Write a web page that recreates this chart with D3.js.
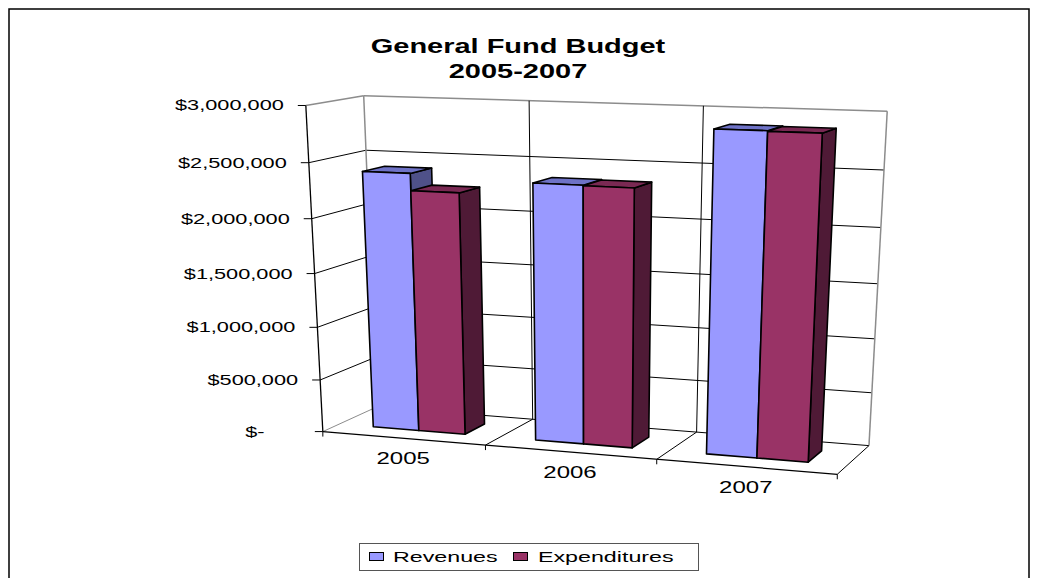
<!DOCTYPE html>
<html>
<head>
<meta charset="utf-8">
<script src="https://cdn.jsdelivr.net/npm/d3@7"></script>
<style>
  body { margin: 0; background: #fff; }
  text { font-family: "Liberation Sans", Arial, sans-serif; fill: #000; }
</style>
</head>
<body>
<svg id="chart"></svg>
<script>
// ---- data ----
const years = ["2005", "2006", "2007"];
const seriesNames = ["Revenues", "Expenditures"];
const revenues = [2400000, 2360000, 2880000];
const expenditures = [2245000, 2355000, 2875000];
const yTicks = [0, 500000, 1000000, 1500000, 2000000, 2500000, 3000000];
const yTickLabels = ["$-      ", "$500,000", "$1,000,000", "$1,500,000", "$2,000,000", "$2,500,000", "$3,000,000"];

const width = 1038, height = 578;
const colors = {
  Revenues:     { front: "#9999ff", top: "#6e72c6", side: "#4f5189" },
  Expenditures: { front: "#993366", top: "#7a2953", side: "#4f1a36" }
};

// box corners on screen, used to fit the perspective camera (world: x 0..3, y 0..1, z 0 front..1 back)
const calib = [
  [[0, 1, 0], [306, 105]],
  [[0, 0, 0], [323.3, 430.5]],
  [[0, 1, 1], [363.3, 96]],
  [[3, 1, 1], [887.3, 111.7]],
  [[3, 0, 1], [869.3, 445]],
  [[3, 0, 0], [837.5, 472.5]],
  [[1, 0, 0], [485, 446.5]],
  [[2, 0, 0], [656, 461.5]],
  [[0, 0.5, 0], [314.9, 273.3]]
];

// least squares fit of a 3x4 projection matrix
function fitCamera(pts) {
  const rows = [], rhs = [];
  pts.forEach(([[X, Y, Z], [u0, v0]]) => {
    const u = (u0 - 500) / 100, v = (v0 - 300) / 100;
    rows.push([X, Y, Z, 1, 0, 0, 0, 0, -u * X, -u * Y, -u * Z]); rhs.push(u);
    rows.push([0, 0, 0, 0, X, Y, Z, 1, -v * X, -v * Y, -v * Z]); rhs.push(v);
  });
  const n = 11;
  const M = d3.range(n).map(() => new Array(n + 1).fill(0));
  rows.forEach((r, k) => {
    for (let i = 0; i < n; i++) {
      for (let j = 0; j < n; j++) M[i][j] += r[i] * r[j];
      M[i][n] += r[i] * rhs[k];
    }
  });
  for (let c = 0; c < n; c++) {
    let piv = c;
    for (let r = c + 1; r < n; r++) if (Math.abs(M[r][c]) > Math.abs(M[piv][c])) piv = r;
    [M[c], M[piv]] = [M[piv], M[c]];
    for (let r = 0; r < n; r++) {
      if (r === c) continue;
      const f = M[r][c] / M[c][c];
      for (let j = c; j <= n; j++) M[r][j] -= f * M[c][j];
    }
  }
  return M.map((r, i) => r[n] / r[i]);
}
const cam = fitCamera(calib);
function project([X, Y, Z]) {
  const w = cam[8] * X + cam[9] * Y + cam[10] * Z + 1;
  return [
    (cam[0] * X + cam[1] * Y + cam[2] * Z + cam[3]) / w * 100 + 500,
    (cam[4] * X + cam[5] * Y + cam[6] * Z + cam[7]) / w * 100 + 300
  ];
}

// ---- scales ----
const x = d3.scaleBand().domain(years).range([0, 3]);
const xs = d3.scaleBand().domain(seriesNames).range([0, x.bandwidth()]).paddingOuter(0.75);
const y = d3.scaleLinear().domain([0, 3000000]).range([0, 1]);
const zFront = 0.3, zBack = 0.7;   // gap depth 150%

const svg = d3.select("#chart").attr("width", width).attr("height", height);
svg.append("rect").attr("width", width).attr("height", height).attr("fill", "#fff");
svg.append("rect").attr("x", 9).attr("y", 9).attr("width", 1020).attr("height", 620)
  .attr("fill", "none").attr("stroke", "#000").attr("stroke-width", 1.5);

const poly = pts => "M" + pts.map(p => project(p).join(",")).join("L") + "Z";
const line = (a, b) => "M" + project(a).join(",") + "L" + project(b).join(",");
const plot = svg.append("g");

// walls and floor
[[[0,0,1],[3,0,1],[3,1,1],[0,1,1]], [[0,0,0],[0,0,1],[0,1,1],[0,1,0]], [[0,0,0],[3,0,0],[3,0,1],[0,0,1]]]
  .forEach(f => plot.append("path").attr("d", poly(f)).attr("fill", "#fff"));

const grey = "#8c8c8c";
// horizontal gridlines on back wall and left wall
yTicks.forEach((t, i) => {
  const top = i === yTicks.length - 1;
  plot.append("path").attr("d", line([0, y(t), 1], [3, y(t), 1]))
    .attr("stroke", top ? grey : "#000").attr("stroke-width", top ? 1.5 : 1).attr("fill", "none");
  plot.append("path").attr("d", line([0, y(t), 0], [0, y(t), 1]))
    .attr("stroke", top || i === 0 ? grey : "#000").attr("stroke-width", top ? 1.5 : 1).attr("fill", "none");
});
// category lines on back wall and floor
d3.range(0, 4).forEach(k => {
  const edge = k === 0 || k === 3;
  plot.append("path").attr("d", line([k, 0, 1], [k, 1, 1]))
    .attr("stroke", edge ? grey : "#000").attr("stroke-width", edge ? 1.5 : 1).attr("fill", "none");
  if (k > 0) plot.append("path").attr("d", line([k, 0, 0], [k, 0, 1]))
    .attr("stroke", "#000").attr("stroke-width", 1).attr("fill", "none");
});
// axes
plot.append("path").attr("d", line([0, 0, 0], [0, 1, 0])).attr("stroke", "#000").attr("stroke-width", 1.3);
plot.append("path").attr("d", line([0, 0, 0], [3, 0, 0])).attr("stroke", "#000").attr("stroke-width", 1.3);

yTicks.forEach((t, i) => {
  const [px, py] = project([0, y(t), 0]);
  plot.append("line").attr("x1", px - 8).attr("x2", px).attr("y1", py).attr("y2", py)
    .attr("stroke", "#000").attr("stroke-width", 1);
  plot.append("text").attr("transform", `translate(${px - 22},${py + 5}) scale(1.45,1)`)
    .attr("text-anchor", "end").style("white-space", "pre").style("font-size", "15px")
    .text(yTickLabels[i]);
});
d3.range(0, 4).forEach(k => {
  const [px, py] = project([k, 0, 0]);
  plot.append("line").attr("x1", px).attr("x2", px).attr("y1", py).attr("y2", py + 5)
    .attr("stroke", "#000").attr("stroke-width", 1);
});
years.forEach(yr => {
  const [px, py] = project([x(yr) + x.bandwidth() / 2, 0, 0]);
  plot.append("text").attr("transform", `translate(${px},${py + 26}) scale(1.5,1)`)
    .attr("text-anchor", "middle").style("font-size", "16px").text(yr);
});

// bars, drawn left to right so each box hides the side of the one before
const bars = [];
years.forEach((yr, i) => {
  [revenues[i], expenditures[i]].forEach((v, s) => bars.push({ year: yr, series: seriesNames[s], value: v }));
});
bars.forEach(d => {
  const x0 = x(d.year) + xs(d.series), x1 = x0 + xs.bandwidth(), h = y(d.value);
  const c = colors[d.series];
  const g = plot.append("g").attr("stroke", "#000").attr("stroke-width", 1.6).attr("stroke-linejoin", "round");
  g.append("path").attr("fill", c.side).attr("d", poly([[x1,0,zFront],[x1,0,zBack],[x1,h,zBack],[x1,h,zFront]]));
  g.append("path").attr("fill", c.top).attr("d", poly([[x0,h,zFront],[x1,h,zFront],[x1,h,zBack],[x0,h,zBack]]));
  g.append("path").attr("fill", c.front).attr("d", poly([[x0,0,zFront],[x1,0,zFront],[x1,h,zFront],[x0,h,zFront]]));
});

// title
svg.append("text").attr("transform", "translate(518,53) scale(1.38,1)").attr("text-anchor", "middle")
  .style("font-size", "21px").style("font-weight", "bold").text("General Fund Budget");
svg.append("text").attr("transform", "translate(518,78) scale(1.38,1)").attr("text-anchor", "middle")
  .style("font-size", "21px").style("font-weight", "bold").text("2005-2007");

// legend
const lg = svg.append("g");
lg.append("rect").attr("x", 359.5).attr("y", 543.5).attr("width", 339).attr("height", 27)
  .attr("fill", "#fff").attr("stroke", "#555").attr("stroke-width", 1);
const legX = [369, 513], textX = [393, 538];
seriesNames.forEach((s, i) => {
  lg.append("rect").attr("x", legX[i] + 0.5).attr("y", 552.5).attr("width", 14).attr("height", 8)
    .attr("fill", colors[s].front).attr("stroke", "#000").attr("stroke-width", 1);
  lg.append("text").attr("transform", `translate(${textX[i]},562) scale(1.55,1)`)
    .style("font-size", "15px").text(s);
});
</script>
</body>
</html>
